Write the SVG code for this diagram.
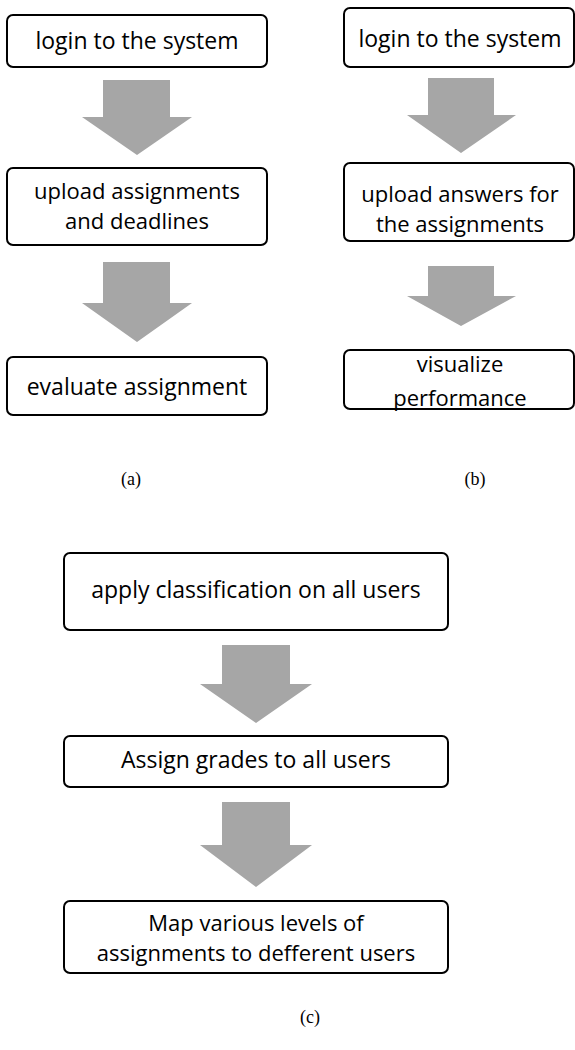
<svg xmlns="http://www.w3.org/2000/svg" width="575" height="1050" viewBox="0 0 575 1050">
<style>
.box{fill:#fff;stroke:#000;stroke-width:2}
.t{font-family:"Open Sans","Liberation Sans",sans-serif;font-size:22px;fill:#000;text-anchor:middle}
.t1{font-size:23px}
.cap{font-family:"Liberation Serif",serif;font-size:18px;fill:#000;text-anchor:middle}
.arr{fill:#a6a6a6}
</style>
<rect width="575" height="1050" fill="#fff"/>
<g id="connectors">
<polygon class="arr" points="103,80 170,80 170,117 192,117 137,155 82,117 103,117"/>
<polygon class="arr" points="103,262 170,262 170,303 192,303 137,342 82,303 103,303"/>
<polygon class="arr" points="428,78 494,78 494,115 516,115 461,153 407,115 428,115"/>
<polygon class="arr" points="428,266 494,266 494,296 516,296 461,326 407,296 428,296"/>
<polygon class="arr" points="222,645 290,645 290,684 312,684 256,723 200,684 222,684"/>
<polygon class="arr" points="222,802 290,802 290,845 312,845 256,887 200,845 222,845"/>
</g>
<g id="a1"><rect class="box" x="7" y="15" width="260" height="52" rx="6"/><text class="t t1" x="137" y="49">login to the system</text></g>
<g id="a2"><rect class="box" x="7" y="168" width="260" height="77" rx="6"/><text class="t" x="137" y="199">upload assignments</text><text class="t" x="137" y="229">and deadlines</text></g>
<g id="a3"><rect class="box" x="7" y="357" width="260" height="58" rx="6"/><text class="t t1" x="137" y="395">evaluate assignment</text></g>
<g id="b1"><rect class="box" x="344" y="8" width="230" height="59" rx="6"/><text class="t t1" x="460" y="47">login to the system</text></g>
<g id="b2"><rect class="box" x="344" y="163" width="230" height="78" rx="6"/><text class="t" x="460" y="202">upload answers for</text><text class="t" x="460" y="232">the assignments</text></g>
<g id="b3"><rect class="box" x="344" y="350" width="230" height="59" rx="6"/><text class="t" x="460" y="372">visualize</text><text class="t" x="460" y="406">performance</text></g>
<g id="c1"><rect class="box" x="64" y="553" width="384" height="77" rx="6"/><text class="t t1" x="256" y="598">apply classification on all users</text></g>
<g id="c2"><rect class="box" x="64" y="736" width="384" height="51" rx="6"/><text class="t t1" x="256" y="768">Assign grades to all users</text></g>
<g id="c3"><rect class="box" x="64" y="901" width="384" height="72" rx="6"/><text class="t" x="256" y="931">Map various levels of</text><text class="t" x="256" y="961">assignments to defferent users</text></g>
<text class="cap" x="131" y="485">(a)</text>
<text class="cap" x="475" y="485">(b)</text>
<text class="cap" x="310" y="1023">(c)</text>
</svg>
